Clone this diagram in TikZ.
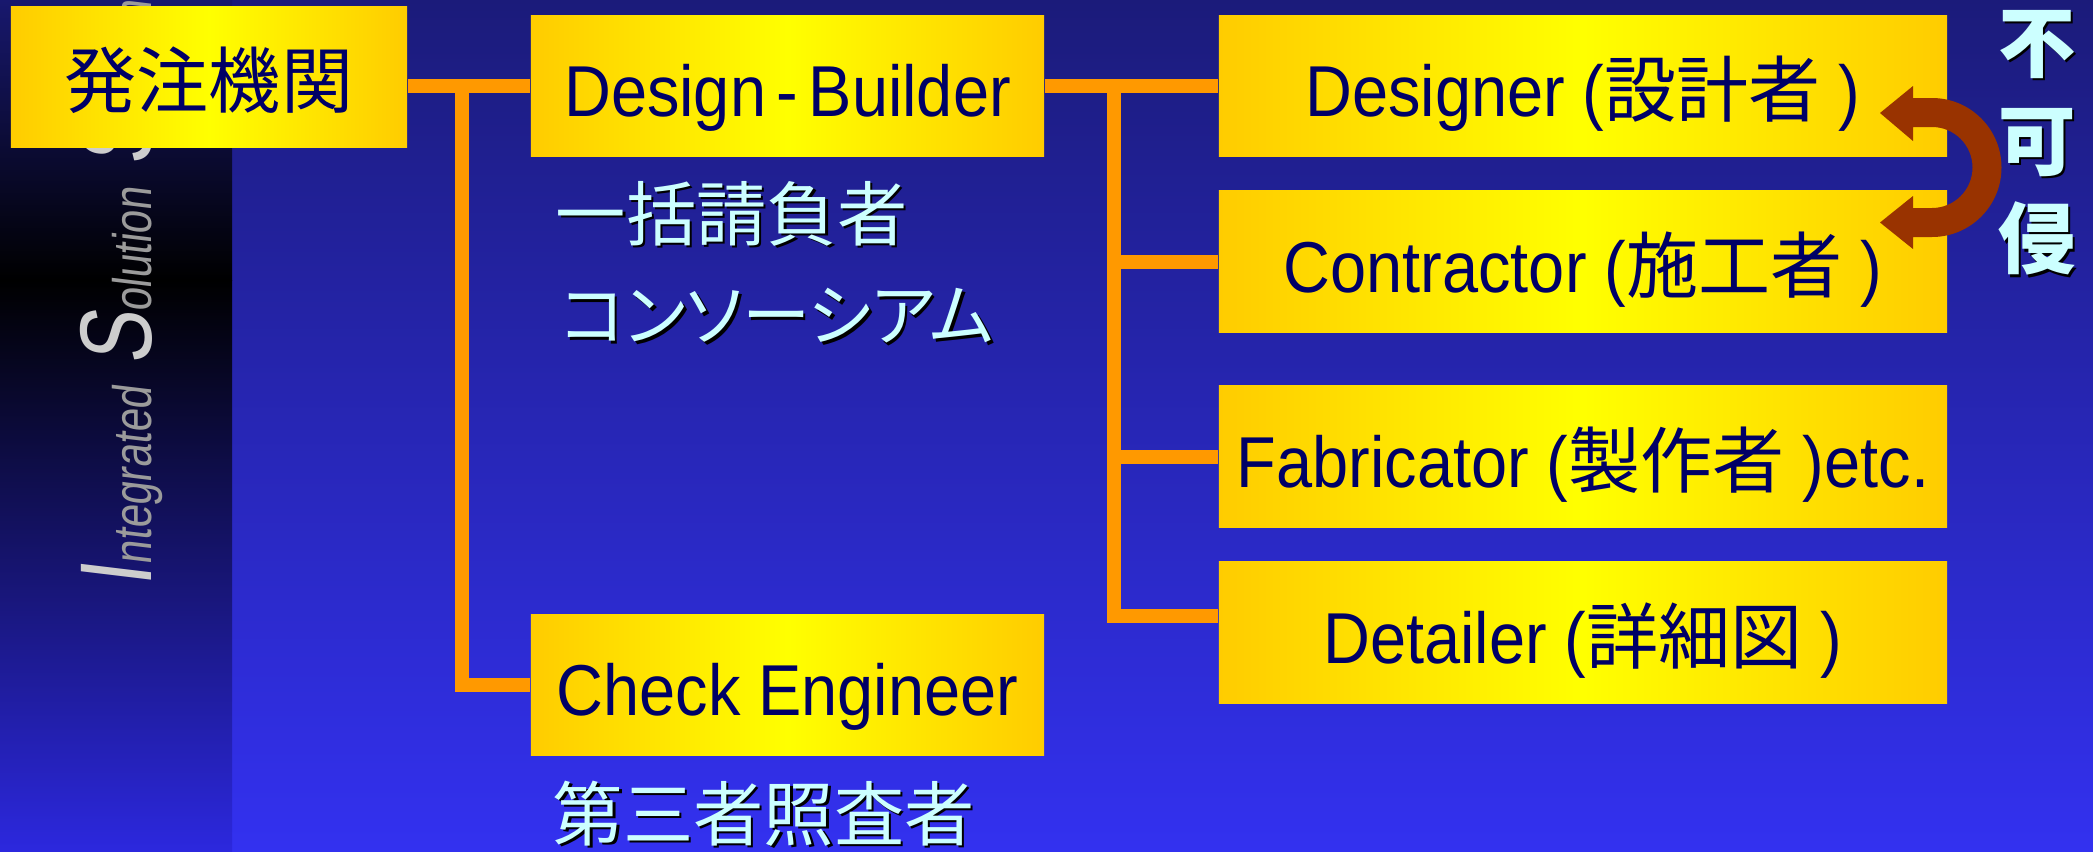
\documentclass[tikz,border=0pt]{standalone}
\usepackage{fontspec}
\setmainfont{Liberation Sans}[FakeStretch=0.9]
\newfontfamily\jp{Noto Sans CJK JP}
\newfontfamily\jpk{Noto Sans CJK JP}[RawFeature=+palt]
\newfontfamily\logofont{Liberation Sans}[FakeStretch=0.78,FakeSlant=0.12]
\definecolor{bgtop}{RGB}{27,27,122}
\definecolor{bgbot}{RGB}{51,49,240}
\definecolor{striptop}{RGB}{24,24,110}
\definecolor{stripbot}{RGB}{44,40,222}
\definecolor{gold}{RGB}{255,204,0}
\definecolor{yel}{RGB}{255,255,0}
\definecolor{navy}{RGB}{0,0,102}
\definecolor{orng}{RGB}{255,153,0}
\definecolor{arrbrown}{RGB}{153,51,0}
\definecolor{lcyan}{RGB}{204,255,255}
\definecolor{capgray}{RGB}{205,205,205}
\definecolor{smallgray}{RGB}{155,155,155}
\newcommand\shtext[1]{\makebox[0pt][l]{\kern0.7pt\raisebox{-0.7pt}{\color{black}#1}}#1}
\tikzset{
  orgbox/.style={shade, left color=gold, right color=gold, middle color=yel,
    inner sep=0pt, text=navy, font=\fontsize{20.5pt}{24pt}\selectfont,
    text height=17.6pt, text depth=0pt, align=center},
  wbox/.style={orgbox, minimum width=5.13cm, minimum height=1.40cm},
  rbox/.style={orgbox, minimum width=7.28cm, minimum height=1.41cm},
  conn/.style={draw=orng, line width=0.14cm},
  subtext/.style={inner sep=0pt, text=lcyan, anchor=west, font=\jp\fontsize{20pt}{24pt}\selectfont},
}
\begin{document}
\begin{tikzpicture}[x=0.01cm, y=-0.01cm]
\useasboundingbox (0,0) rectangle (2093,851);
% background
\fill[top color=bgtop, bottom color=bgbot] (0,0) rectangle (2093,851);
\fill[top color=striptop, bottom color=black] (0,0) rectangle (232,280);
\fill[top color=black, bottom color=stripbot] (0,280) rectangle (232,851);
\begin{scope}
\clip (0,0) rectangle (232,851);
\node[rotate=90, anchor=base west, inner sep=0pt, font=\logofont] (logo) at (151,588)
  {{\fontsize{29pt}{29pt}\selectfont\color{capgray}I}{\fontsize{15.4pt}{16pt}\selectfont\color{smallgray}ntegrated\hspace{6pt}}{\fontsize{29pt}{29pt}\selectfont\color{capgray}S}{\fontsize{15.4pt}{16pt}\selectfont\color{smallgray}olution\hspace{6pt}}{\fontsize{29pt}{29pt}\selectfont\color{capgray}S}{\fontsize{15.4pt}{16pt}\selectfont\color{smallgray}ystems}};
\end{scope}
% boxes
\node[orgbox, minimum width=3.96cm, minimum height=1.40cm] (boss) at (209,77) {\jp 発注機関};
\node[wbox] (db) at (787.5,86) {Design\kern3pt-\kern3pt Builder};
\node[wbox] (ce) at (787.5,685) {Check Engineer};
\node[rbox] (des) at (1583,86) {Designer ({\jp 設計者} )};
\node[rbox] (con) at (1583,261.5) {Contractor ({\jp 施工者} )};
\node[rbox] (fab) at (1583,456.5) {Fabricator ({\jp 製作者} )etc.};
\node[rbox] (det) at (1583,632.5) {Detailer ({\jp 詳細図} )};
% connectors
\coordinate (j1) at (462,85);
\coordinate (j2) at (1114,85);
\coordinate (j3) at (1114,616);
\draw[conn] (boss.east |- db.west) -- (db.west);
\draw[conn] (db.east) -- (des.west);
\draw[conn] (j1) |- (ce.west);
\draw[conn] (j2) |- (j3 -| det.west);
\draw[conn] (j2 |- con.west) -- (con.west);
\draw[conn] (j2 |- fab.west) -- (fab.west);
% texts
\node[subtext] (s1) at (555,215) {\shtext{一括請負者}};
\node[subtext, font=\jpk\fontsize{19.4pt}{24pt}\selectfont] (s2) at (560,317) {\shtext{コンソーシアム}};
\node[subtext] (s3) at (552,815) {\shtext{第三者照査者}};
\node[inner sep=0pt, text=lcyan, align=center, font=\jp\bfseries\fontsize{22pt}{27.9pt}\selectfont] (fk) at (2037,144) {\shtext{不}\\\shtext{可}\\\shtext{侵}};
% curved double arrow
\fill[arrbrown] (1913,98) -- (1932,98) arc[start angle=-90, end angle=90, radius=69.5]
  -- (1913,237) -- (1913,249) -- (1880,222.5) -- (1913,196) -- (1913,208) -- (1932,208)
  arc[start angle=90, end angle=-90, radius=40.5]
  -- (1913,127) -- (1913,141) -- (1880,113) -- (1913,86) -- cycle;
\end{tikzpicture}
\end{document}
